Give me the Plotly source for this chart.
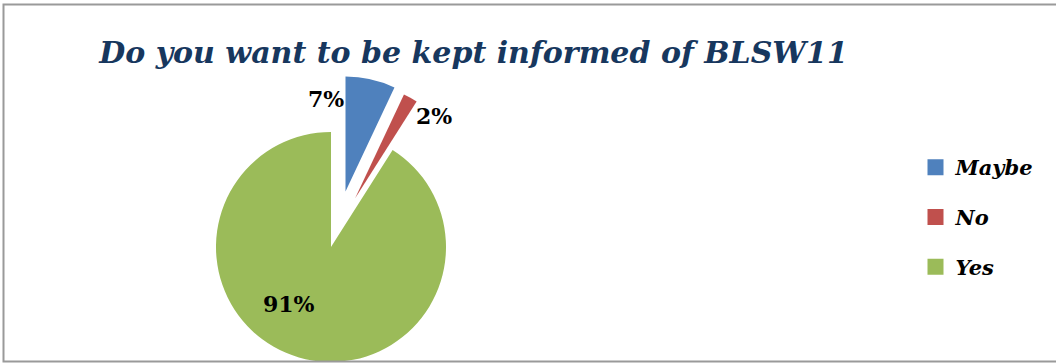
import plotly.graph_objects as go

# ---- data ----
categories = ["Maybe", "No", "Yes"]
values = [7, 2, 91]
colors = ["#4F81BD", "#C0504D", "#9BBB59"]
title_text = "Do you want to be kept informed of BLSW11"

W, H = 1056, 363
R = 115
# slice centres in pixels (exploded Maybe / No, Yes in place)
centers = {"Maybe": (345.5, 191.5), "No": (355, 198.5), "Yes": (331, 247)}
label_pos = {"Maybe": (326, 99), "No": (434, 116), "Yes": (289, 304)}

TRANSPARENT = "rgba(0,0,0,0)"
fig = go.Figure()

total = sum(values)
for i, cat in enumerate(categories):
    cx, cy = centers[cat]
    cols = [colors[j] if j == i else TRANSPARENT for j in range(len(categories))]
    fig.add_trace(go.Pie(
        labels=categories, values=values, sort=False, direction="clockwise",
        rotation=0, textinfo="none", showlegend=False, hoverinfo="label+percent",
        marker=dict(colors=cols, line=dict(width=0)),
        domain=dict(x=[(cx - R) / W, (cx + R) / W],
                    y=[1 - (cy + R) / H, 1 - (cy - R) / H]),
    ))

# percentage labels
for i, cat in enumerate(categories):
    px, py = label_pos[cat]
    fig.add_annotation(
        x=px / W, y=1 - py / H, xref="paper", yref="paper",
        text=f"{values[i] / total * 100:.0f}%", showarrow=False,
        xanchor="center", yanchor="middle",
        font=dict(family="DejaVu Serif", size=22, color="black", weight="bold"),
    )

# legend entries
for i, cat in enumerate(categories):
    fig.add_trace(go.Scatter(
        x=[None], y=[None], mode="markers", name=cat, legendgroup=cat,
        marker=dict(symbol="square", size=16, color=colors[i]),
        showlegend=True, hoverinfo="skip",
    ))

# chart frame
fig.add_shape(type="rect", xref="paper", yref="paper",
              x0=3.5 / W, x1=1.05, y0=1 - 361.5 / H, y1=1 - 4.5 / H,
              line=dict(color="#9a9a9a", width=2), fillcolor="rgba(0,0,0,0)")

fig.update_layout(
    width=W, height=H,
    margin=dict(l=0, r=0, t=0, b=0),
    paper_bgcolor="white", plot_bgcolor="white",
    xaxis=dict(visible=False), yaxis=dict(visible=False),
    title=dict(text=title_text, x=473.5 / W, xanchor="center",
               y=1 - 52 / H, yanchor="middle", yref="container",
               font=dict(family="DejaVu Serif", size=30, color="#17375E",
                         weight="bold", style="italic")),
    legend=dict(x=915.5 / W, y=1 - 147 / H, xanchor="left", yanchor="top",
                traceorder="grouped", tracegroupgap=19.5, bgcolor="rgba(0,0,0,0)",
                font=dict(family="DejaVu Serif", size=21, color="black",
                          weight="bold", style="italic")),
)

fig.write_html("out.html")
